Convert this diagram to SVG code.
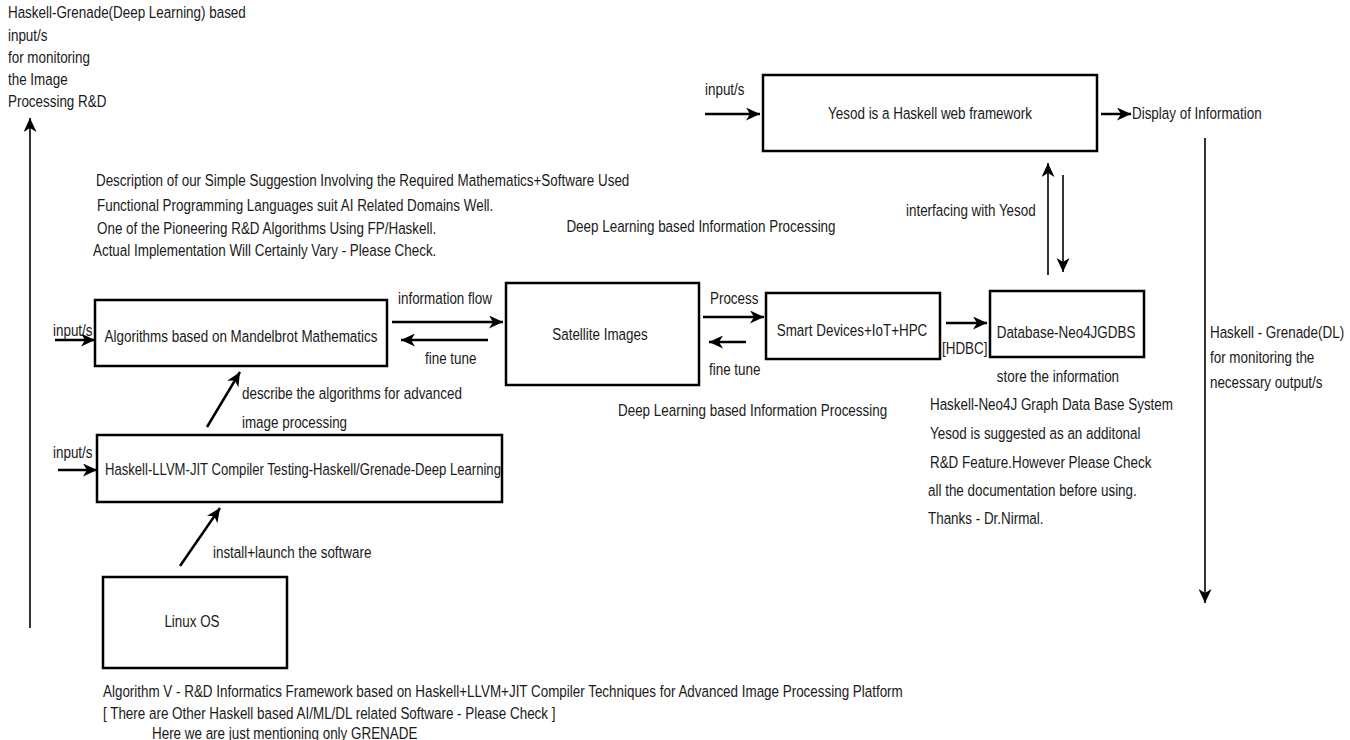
<svg xmlns="http://www.w3.org/2000/svg" width="1350" height="740" viewBox="0 0 1350 740">
<style>
text{font-family:"Liberation Sans",Arial,sans-serif;font-size:17px;fill:#1a1a1a;dominant-baseline:central;transform:scale(0.79,1)}
.box{fill:#fff;stroke:#000;stroke-width:2.5}
.mid{text-anchor:middle}
.ln{stroke:#000;stroke-width:2.5;fill:none;marker-end:url(#ah)}
.thin{stroke:#000;stroke-width:1.6;fill:none;marker-end:url(#ah)}
</style>
<defs>
<marker id="ah" markerUnits="userSpaceOnUse" markerWidth="16" markerHeight="13" refX="14" refY="6.5" orient="auto">
<path d="M0,0 L14,6.5 L0,13 L4,6.5 Z" fill="#000"/>
</marker>
</defs>
<rect width="1350" height="740" fill="#fff"/>

<g id="notes">
<text x="10.1" y="12">Haskell-Grenade(Deep Learning) based</text>
<text x="10.1" y="35">input/s</text>
<text x="10.1" y="57">for monitoring</text>
<text x="10.1" y="79">the Image</text>
<text x="10.1" y="101">Processing R&amp;D</text>
<text x="121.5" y="180">Description of our Simple Suggestion Involving the Required Mathematics+Software Used</text>
<text x="122.8" y="205">Functional Programming Languages suit AI Related Domains Well.</text>
<text x="122.8" y="228">One of the Pioneering R&amp;D Algorithms Using FP/Haskell.</text>
<text x="117.7" y="250">Actual Implementation Will Certainly Vary - Please Check.</text>
<text x="717" y="226">Deep Learning based Information Processing</text>
<text x="782.3" y="410">Deep Learning based Information Processing</text>
<text x="1339.2" y="376" class="mid">store the information</text>
<text x="1177.2" y="404">Haskell-Neo4J Graph Data Base System</text>
<text x="1177.2" y="433">Yesod is suggested as an additonal</text>
<text x="1177.2" y="462">R&amp;D Feature.However Please Check</text>
<text x="1174.7" y="490">all the documentation before using.</text>
<text x="1174.7" y="518">Thanks - Dr.Nirmal.</text>
<text x="1531.6" y="332">Haskell - Grenade(DL)</text>
<text x="1531.6" y="357">for monitoring the</text>
<text x="1531.6" y="382">necessary output/s</text>
<text x="130.4" y="691">Algorithm V - R&amp;D Informatics Framework based on Haskell+LLVM+JIT Compiler Techniques for Advanced Image Processing Platform</text>
<text x="130.4" y="713">[ There are Other Haskell based AI/ML/DL related Software - Please Check ]</text>
<text x="192.4" y="733">Here we are just mentioning only GRENADE</text>
</g>

<g id="connectors">
<line class="thin" x1="30" y1="628" x2="30" y2="118"/>
<line class="ln" x1="55" y1="340" x2="95" y2="340"/>
<line class="ln" x1="392" y1="322" x2="503" y2="322"/>
<line class="ln" x1="488" y1="340" x2="401" y2="340"/>
<line class="ln" x1="703" y1="317" x2="764" y2="317"/>
<line class="ln" x1="746" y1="342" x2="709" y2="342"/>
<line class="ln" x1="946" y1="323" x2="987" y2="323"/>
<line class="thin" x1="1048" y1="275" x2="1048" y2="163"/>
<line class="thin" x1="1063" y1="175" x2="1063" y2="272"/>
<line class="ln" x1="705" y1="114" x2="760" y2="114"/>
<line class="ln" x1="1101" y1="114" x2="1131" y2="114"/>
<line class="thin" x1="1205" y1="138" x2="1205" y2="603"/>
<line class="ln" x1="207" y1="427" x2="240" y2="372"/>
<line class="ln" x1="180" y1="566" x2="220" y2="508"/>
<line class="ln" x1="58" y1="470" x2="97" y2="470"/>
<text x="67.1" y="330">input/s</text>
<text x="67.1" y="452">input/s</text>
<text x="892.4" y="89">input/s</text>
<text x="503.8" y="298">information flow</text>
<text x="538" y="358">fine tune</text>
<text x="898.7" y="298">Process</text>
<text x="897.5" y="369">fine tune</text>
<text x="1192.4" y="348">[HDBC]</text>
<text x="1432.9" y="113">Display of Information</text>
<text x="1146.8" y="210">interfacing with Yesod</text>
<text x="306.3" y="393">describe the algorithms for advanced</text>
<text x="306.3" y="422">image processing</text>
<text x="269.6" y="552">install+launch the software</text>
</g>

<g id="yesod"><rect class="box" x="763" y="75" width="334" height="76"/><text x="1177.2" y="113" class="mid">Yesod is a Haskell web framework</text></g>
<g id="algorithms"><rect class="box" x="95" y="300" width="292" height="66"/><text x="305.1" y="336" class="mid">Algorithms based on Mandelbrot Mathematics</text></g>
<g id="satellite"><rect class="box" x="506" y="283" width="193" height="102"/><text x="759.5" y="334" class="mid">Satellite Images</text></g>
<g id="smart"><rect class="box" x="766" y="293" width="174" height="66"/><text x="1078.5" y="330" class="mid">Smart Devices+IoT+HPC</text></g>
<g id="database"><rect class="box" x="990" y="291" width="154" height="66"/><text x="1349.4" y="332" class="mid">Database-Neo4JGDBS</text></g>
<g id="llvm"><rect class="box" x="97" y="435" width="405" height="67"/><text x="383.5" y="469" class="mid" style="font-size:16.6px">Haskell-LLVM-JIT Compiler Testing-Haskell/Grenade-Deep Learning</text></g>
<g id="linux"><rect class="box" x="103" y="577" width="184" height="91"/><text x="243" y="621" class="mid">Linux OS</text></g>
</svg>
